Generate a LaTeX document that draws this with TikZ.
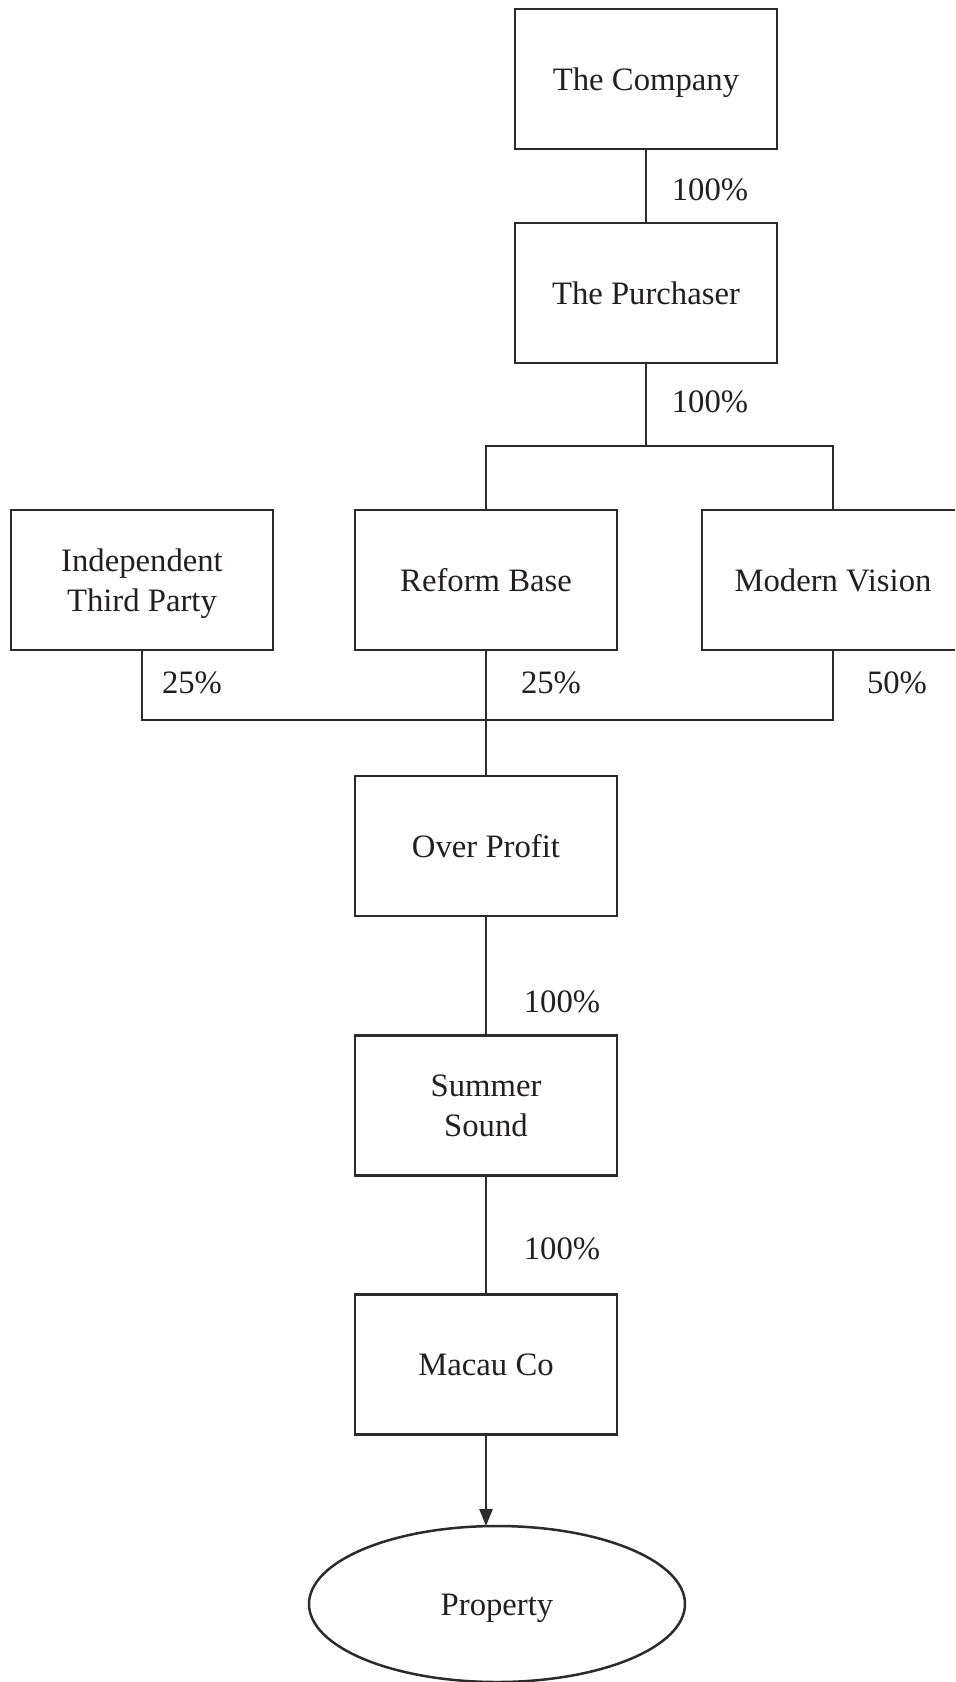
\documentclass[tikz,border=0pt]{standalone}
\usepackage{fontspec}
\setmainfont{Liberation Serif}
\usetikzlibrary{arrows.meta,shapes.geometric}
\definecolor{ink}{HTML}{231F20}
\definecolor{linec}{HTML}{2B2B2B}
\tikzset{
  box/.style={draw=linec, line width=1.4pt, minimum width=131pt, minimum height=70pt,
    inner sep=0pt, outer sep=0pt, align=center, text=ink,
    font=\fontsize{16.35}{20}\selectfont},
  oneline/.style={text height=11.2pt, text depth=0pt},
  flatbottom/.style={text depth=0pt},
  pct/.style={inner sep=0pt, text=ink, font=\fontsize{16.35}{20}\selectfont},
  conn/.style={draw=linec, line width=1.25pt},
  oval/.style={ellipse, draw=linec, line width=1.25pt, minimum width=188pt, minimum height=78pt,
    inner sep=0pt, outer sep=0pt, text=ink, font=\fontsize{16.35}{20}\selectfont}
}
\begin{document}
\begin{tikzpicture}[x=0.5pt,y=-0.5pt]
\useasboundingbox (0,0) rectangle (955,1682);
\clip (0,0) rectangle (955,1682);
% nodes
\node[box,oneline] (comp) at (646,79) {The Company};
\node[box,oneline] (pur) at (646,293) {The Purchaser};
\node[box,flatbottom] (indep) at (142,580) {Independent\\Third Party};
\node[box,oneline] (reform) at (486,580) {Reform Base};
\node[box,oneline] (modern) at (833,580) {Modern Vision};
\node[box,oneline] (over) at (486,846) {Over Profit};
\node[box] (summer) at (486,1105.5) {Summer\\Sound};
\node[box,oneline] (macau) at (486,1364.5) {Macau Co};
\node[oval,oneline] (prop) at (497,1604) {Property};
% coordinates
\coordinate (b1) at (646,446);
\coordinate (b2) at (486,720);
% connectors
\draw[conn] (comp.south) -- (pur.north);
\draw[conn] (pur.south) -- (b1);
\draw[conn] (reform.north) |- (b1) -| (modern.north);
\draw[conn] (indep.south) |- (b2) -| (modern.south);
\draw[conn] (reform.south) -- (over.north);
\draw[conn] (over.south) -- (summer.north);
\draw[conn] (summer.south) -- (macau.north);
\draw[conn, -{Triangle[length=8.5pt,width=6.5pt]}] (macau.south) -- (macau.south |- prop.north);
% labels
\node[pct] (l1) at (710,190) {100\%};
\node[pct] (l2) at (710,402) {100\%};
\node[pct] (l3) at (192,683) {25\%};
\node[pct] (l4) at (551,683) {25\%};
\node[pct] (l5) at (897,683) {50\%};
\node[pct] (l6) at (562,1002) {100\%};
\node[pct] (l7) at (562,1249) {100\%};
\end{tikzpicture}
\end{document}
